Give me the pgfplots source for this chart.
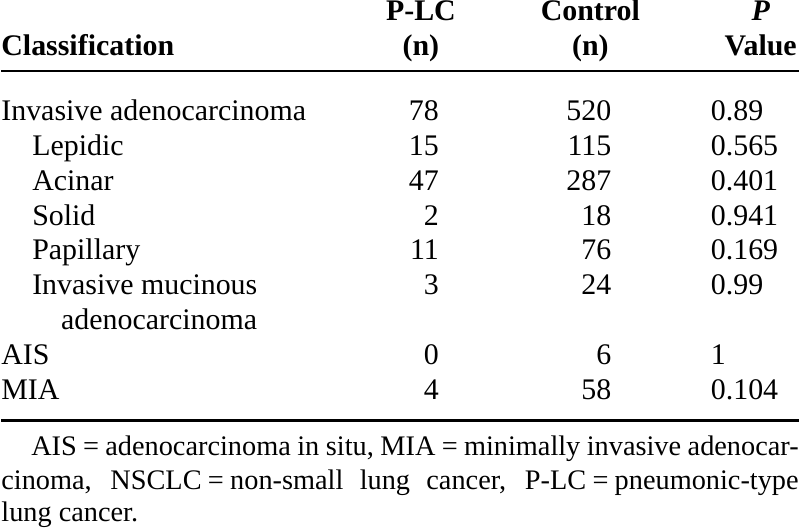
\documentclass[border=0pt]{standalone}
\usepackage{fontspec}
\setmainfont{Liberation Serif}
\usepackage{pgfplots}
\usepackage{pgfplotstable}
\pgfplotsset{compat=1.18}

\newcommand\FnA{\makebox[385bp][s]{AIS\:=\:adenocarcinoma in situ, MIA\:=\:minimally invasive adenocar-}}
\newcommand\FnB{\makebox[400bp][s]{cinoma, NSCLC\:=\:non-small lung cancer, P-LC\:=\:pneumonic-type}}
\newcommand\FnC{lung cancer.}
\newcommand\PVal{\textbf{\textit{P}}}

% header (centred)
\pgfplotstableread[col sep=semicolon]{x;y;label
421;20;P-LC
421;55;(n)
591;20;Control
591;55;(n)
762;20;\PVal
762;55;Value
}\headC
\pgfplotstableread[col sep=semicolon]{x;y;label
0;55;Classification
}\headL

% classification column (left aligned)
\pgfplotstableread[col sep=semicolon]{x;y;label
0;120;Invasive adenocarcinoma
31;155;Lepidic
31;190;Acinar
31;225;Solid
31;260;Papillary
31;295;Invasive mucinous
60;330;adenocarcinoma
0;365;AIS
0;400;MIA
}\classif

% P-LC (n), right aligned
\pgfplotstableread[col sep=semicolon]{x;y;label
439;120;78
439;155;15
439;190;47
439;225;2
439;260;11
439;295;3
439;365;0
439;400;4
}\plc

% Control (n), right aligned
\pgfplotstableread[col sep=semicolon]{x;y;label
612;120;520
612;155;115
612;190;287
612;225;18
612;260;76
612;295;24
612;365;6
612;400;58
}\ctrl

% P value, left aligned
\pgfplotstableread[col sep=semicolon]{x;y;label
712;120;0.89
712;155;0.565
712;190;0.401
712;225;0.941
712;260;0.169
712;295;0.99
712;365;1
712;400;0.104
}\pval

% footnote
\pgfplotstableread[col sep=semicolon]{x;y;label
30;456;\FnA
0;490;\FnB
0;522;\FnC
}\foot

\begin{document}
\begin{tikzpicture}
\begin{axis}[
  scale only axis, width=400bp, height=265.5bp,
  xmin=0, xmax=800, ymin=0, ymax=531, y dir=reverse,
  hide axis, clip=false,
  txt/.style={draw=none, mark=none, nodes near coords,
    point meta=explicit symbolic,
    nodes near coords align={anchor=#1},
    every node near coord/.append style={anchor=#1, inner sep=0pt, outer sep=0pt,
      text=black, font=\fontsize{15bp}{17bp}\selectfont}},
  txtb/.style={txt=#1, every node near coord/.append style={font=\fontsize{15bp}{17bp}\selectfont\bfseries}},
  txts/.style={txt=#1, every node near coord/.append style={font=\fontsize{14.2bp}{16bp}\selectfont}},
]
\addplot[draw=none, mark=none, forget plot] coordinates {(0,0) (800,531)};
\addplot[txtb=base] table[x=x, y=y, meta=label] {\headC};
\addplot[txtb=base west] table[x=x, y=y, meta=label] {\headL};
\addplot[line width=1.4bp, black] coordinates {(0,70.5) (800,70.5)};
\addplot[txt=base west] table[x=x, y=y, meta=label] {\classif};
\addplot[txt=base east] table[x=x, y=y, meta=label] {\plc};
\addplot[txt=base east] table[x=x, y=y, meta=label] {\ctrl};
\addplot[txt=base west] table[x=x, y=y, meta=label] {\pval};
\addplot[line width=1.4bp, black] coordinates {(0,421) (800,421)};
\addplot[txts=base west] table[x=x, y=y, meta=label] {\foot};
\end{axis}
\end{tikzpicture}
\end{document}
